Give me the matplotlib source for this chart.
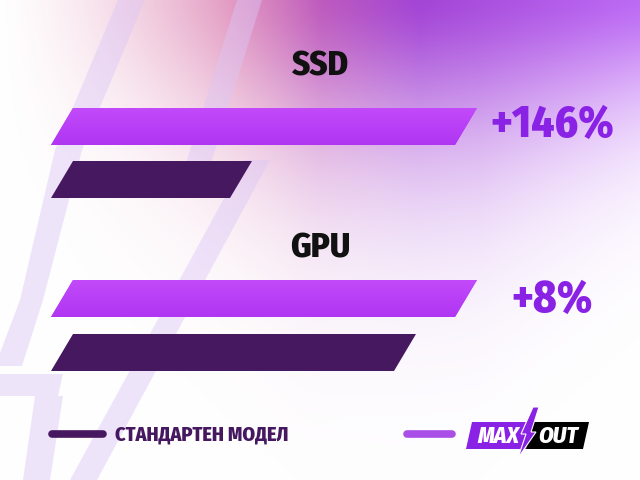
import numpy as np
from matplotlib import pyplot as plt
from matplotlib import font_manager as fm
from matplotlib.patches import Polygon


categories = ['SSD', 'GPU']
maxout_len = [404, 404]      # bar length (px-like units)
standard_len = [179, 343]
gain_labels = ['+146%', '+8%']
legend_labels = ['СТАНДАРТЕН МОДЕЛ', 'MAX', 'OUT']

# pick a condensed heavy face
names = {f.name for f in fm.fontManager.ttflist}
cond = 'DejaVu Sans'
for n in ['Fira Sans Condensed', 'Barlow Semi Condensed', 'Asap Condensed', 'Roboto Condensed']:
    if n in names:
        cond = n
        break
FONT = [cond, 'DejaVu Sans']
WT = 800

W, H = 640, 480
fig = plt.figure(figsize=(6.4, 4.8), dpi=100)
ax = fig.add_axes([0, 0, 1, 1])
ax.set_xlim(0, W)
ax.set_ylim(H, 0)
ax.axis('off')

# background gradient: pink/purple glow at the top, white below and at left
yy, xx = np.mgrid[0:H, 0:W] + 0.5
stops_x = [0, 230, 420, 640]
stops_c = np.array([[0.93, 0.70, 0.78],
                    [0.84, 0.44, 0.66],
                    [0.64, 0.27, 0.84],
                    [0.74, 0.42, 0.96]])
col = np.stack([np.interp(xx, stops_x, stops_c[:, k]) for k in range(3)], axis=-1)
s = np.clip(xx / 320, 0, 1) ** 1.1
L = np.interp(xx, [0, 300, 480, 640], [110, 165, 160, 115])
a = s * np.exp(-(yy / L) ** 1.5)
bg = 1 - a[..., None] * (1 - col)
ax.imshow(bg, extent=[0, W, H, 0], zorder=0, aspect='auto')

# light diagonal stripes
stripes = [
    [(118, 0), (145, 0), (82, 150), (43, 300), (22, 366), (-5, 366), (20, 300), (55, 150)],
    [(237, 0), (262, 0), (202, 192), (177, 192)],
    [(245, 160), (270, 160), (97, 480), (70, 480)],
    [(-5, 374), (63, 374), (58, 396), (-5, 396)],
    [(35, 396), (63, 396), (50, 480), (23, 480)],
]
for st in stripes:
    ax.add_patch(Polygon(st, closed=True, facecolor='#dcc6f6', edgecolor='none',
                         alpha=0.45, zorder=1))

x0 = 73          # top-left corner of each bar
bar_h = 37
shear = 22
max_top = [108, 280]
std_top = [161, 334]
label_y = [66, 248]
gain_y = [125, 300]


def bar(top, length, color, grad=None):
    pts = [(x0, top), (x0 + length, top), (x0 + length - shear, top + bar_h),
           (x0 - shear, top + bar_h)]
    p = Polygon(pts, closed=True, facecolor=color, edgecolor='none', zorder=3)
    ax.add_patch(p)
    if grad is not None:
        g = np.linspace(0, 1, 50)[:, None, None]
        c1 = np.array(grad[0])
        c2 = np.array(grad[1])
        img = c1 + g * (c2 - c1)
        img = np.repeat(img, 2, axis=1)
        im = ax.imshow(img, extent=[x0 - shear, x0 + length, top + bar_h, top],
                       zorder=4, aspect='auto')
        im.set_clip_path(p)


for i, cat in enumerate(categories):
    bar(max_top[i], maxout_len[i], '#b83ff6',
        grad=[(0.76, 0.29, 0.98), (0.69, 0.21, 0.95)])
    bar(std_top[i], standard_len[i], '#46185f')
    ax.text(320, label_y[i], cat, ha='center', va='center', fontsize=25,
            fontweight=WT, color='#111111', family=FONT, zorder=5)
    ax.text(552, gain_y[i], gain_labels[i], ha='center', va='center', fontsize=32,
            fontweight=WT, color='#8a22e6', family=FONT, zorder=5)

# legend
ax.plot([52, 103], [434, 434], color='#46185f', lw=5.5, solid_capstyle='round', zorder=5)
ax.text(115, 435, legend_labels[0], ha='left', va='center', fontsize=14.5,
        fontweight=WT, color='#46185f', family=FONT, zorder=5)
ax.plot([407, 452], [434, 434], color='#a94ee6', lw=5.5, solid_capstyle='round', zorder=5)

# MAX OUT logo
ax.add_patch(Polygon([(472, 422), (532, 422), (526, 449), (466, 449)],
                     facecolor='#8a22e6', edgecolor='none', zorder=5))
ax.add_patch(Polygon([(532, 422), (589, 422), (583, 449), (526, 449)],
                     facecolor='#000000', edgecolor='none', zorder=5))
ax.add_patch(Polygon([(539, 407), (531, 432), (536, 432), (518, 458),
                      (526, 434), (521, 434), (533, 407)],
                     facecolor='#8a22e6', edgecolor='white', lw=0.8, zorder=6))
ax.text(498, 436, legend_labels[1], ha='center', va='center', fontsize=17,
        fontweight=WT, style='italic', color='white', family=FONT, zorder=7)
ax.text(558, 436, legend_labels[2], ha='center', va='center', fontsize=17,
        fontweight=WT, style='italic', color='white', family=FONT, zorder=7)

fig.savefig('out.png', dpi=100)
